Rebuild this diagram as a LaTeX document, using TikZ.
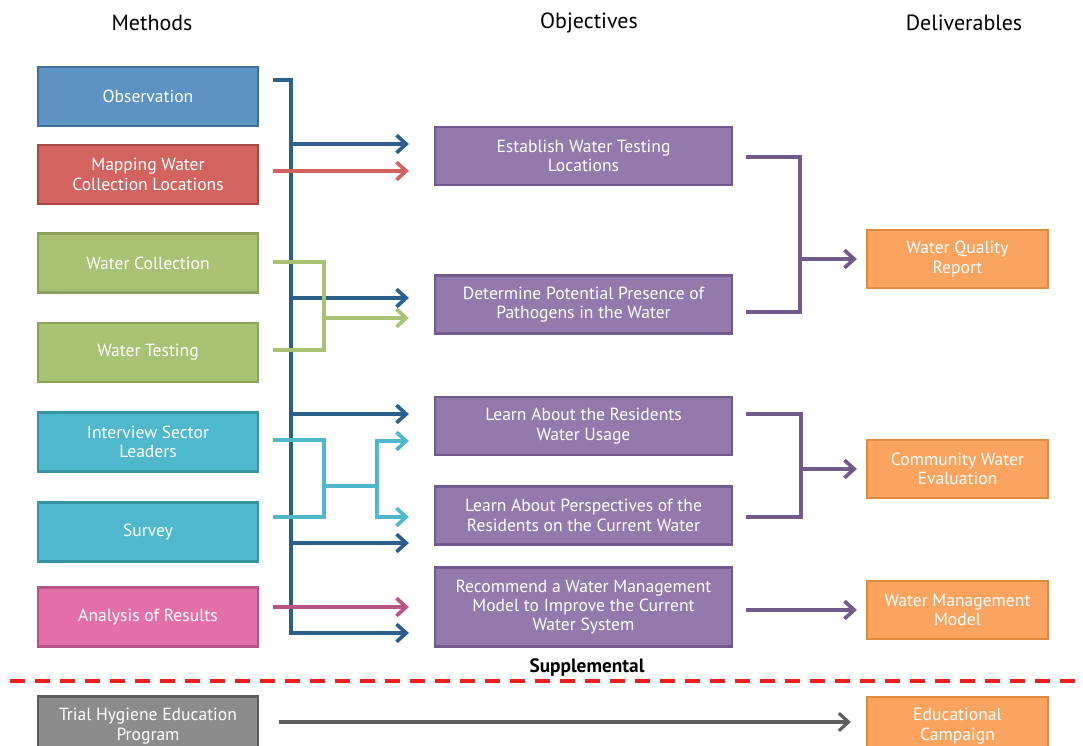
\documentclass[tikz,border=0pt]{standalone}
\usepackage{fontspec}
\setmainfont{PT Sans}
\usepackage{tikz}
\usetikzlibrary{arrows.meta,
calc
}
\tikzset{>={Straight Barb[length=5.5pt,width=10pt]}}

\definecolor{obsblue}{HTML}{5B93C4}
\definecolor{obsblueline}{HTML}{3E6F9E}
\definecolor{mapred}{HTML}{D2635F}
\definecolor{mapredline}{HTML}{A94845}
\definecolor{wgreen}{HTML}{A8C373}
\definecolor{wgreenline}{HTML}{8BA25A}
\definecolor{icyan}{HTML}{4FB8CC}
\definecolor{icyanline}{HTML}{3893A6}
\definecolor{apink}{HTML}{E470A8}
\definecolor{apinkline}{HTML}{B85385}
\definecolor{tgray}{HTML}{8C8C8C}
\definecolor{tgrayline}{HTML}{5E5E5E}
\definecolor{objpurple}{HTML}{9479AC}
\definecolor{objpurpleline}{HTML}{735A8C}
\definecolor{delorange}{HTML}{FBA45F}
\definecolor{delorangeline}{HTML}{E08A40}
\definecolor{trunkblue}{HTML}{2C5F8C}
\definecolor{dashred}{HTML}{E8201E}

\begin{document}
\begin{tikzpicture}[x=0.02cm,y=-0.02cm,
    box/.style={draw=#1line,fill=#1,line width=1.3pt,text=white,align=center,
        font=\fontsize{10}{11}\selectfont,inner sep=0pt},
    method/.style={box=#1,minimum width=4.4cm,minimum height=1.18cm},
    objective/.style={box=objpurple,minimum width=5.94cm,minimum height=1.16cm},
    deliverable/.style={box=delorange,minimum width=3.62cm,minimum height=1.16cm},
    heading/.style={font=\fontsize{12.5}{14}\selectfont},
    blueline/.style={draw=trunkblue,line width=2.1pt},
    redline/.style={draw=mapred,line width=2.1pt},
    greenline/.style={draw=wgreen,line width=2.1pt},
    cyanline/.style={draw=icyan,line width=2.1pt},
    pinkline/.style={draw=apinkline,line width=2.1pt},
    purpleline/.style={draw=objpurpleline,line width=2.1pt},
    grayline/.style={draw=tgrayline,line width=1.8pt}]
        \useasboundingbox (0,0) rectangle (1083,746);
        \clip (0,0) rectangle (1083,746);

        \node[heading] (hmethods) at (152,23) {Methods};
        \node[heading] (hobjectives) at (589,23) {Objectives};
        \node[heading] (hdeliverables) at (964,23) {Deliverables};

        \node[method=obsblue] (obs) at (148,96.5) {Observation};
        \node[method=mapred] (mapping) at (148,174.5) {Mapping Water\\Collection Locations};
        \node[method=wgreen] (collect) at (148,263) {Water Collection};
        \node[method=wgreen] (testing) at (148,352.5) {Water Testing};
        \node[method=icyan] (interview) at (148,442) {Interview Sector\\Leaders};
        \node[method=icyan] (survey) at (148,532) {Survey};
        \node[method=apink] (analysis) at (148,617) {Analysis of Results};
        \node[method=tgray] (trial) at (148,726) {Trial Hygiene Education\\Program};

        \node[objective] (establish) at (583.5,156) {Establish Water Testing\\Locations};
        \node[objective] (pathogens) at (583.5,304.5) {Determine Potential Presence of\\Pathogens in the Water};
        \node[objective] (usage) at (583.5,426) {Learn About the Residents\\Water Usage};
        \node[objective] (perspectives) at (583.5,515.5) {Learn About Perspectives of the\\Residents on the Current Water};
        \node[objective,minimum height=1.58cm] (recommend) at (583.5,607) {Recommend a Water Management\\Model to Improve the Current\\Water System};

        \node[deliverable] (quality) at (957.5,259) {Water Quality\\Report};
        \node[deliverable] (community) at (957.5,469) {Community Water\\Evaluation};
        \node[deliverable] (management) at (957.5,610) {Water Management\\Model};
        \node[deliverable] (campaign) at (957.5,726) {Educational\\Campaign};

        \draw[dashred,line width=1.8pt,dash pattern=on 0.3cm off 0.2cm] (10,681) -- (1083,681);
        \node[font=\bfseries\fontsize{11}{13}\selectfont] (supp) at (587,668) {Supplemental};

        \coordinate (top) at ($(obs.east)+(14,-16.5)$);
        \coordinate (bend) at ($(top)+(18,0)$);
        \coordinate (erecommend) at ($(recommend.west)+(-25,26)$);
        \draw[blueline,->] (top) -- (bend) |- (erecommend);
        \foreach \n/\dy in {establish/-12, pathogens/-6.5, usage/-12, perspectives/27.5}{
            \coordinate (e\n) at ($(\n.west)+(-25,\dy)$);
            \draw[blueline,->] (bend |- e\n) -- (e\n);
        }

        \draw[redline,->] ($(mapping.east)+(14,-3.5)$) -- ($(establish.west)+(-25,15)$);

        \coordinate (gr) at ($(collect.east)+(65,-1)$);
        \coordinate (gend) at ($(pathogens.west)+(-25,13.5)$);
        \draw[greenline] ($(collect.east)+(14,-1)$) -- (gr) |- ($(testing.east)+(14,-2.5)$);
        \draw[greenline,->] (gr |- gend) -- (gend);

        \coordinate (cr) at ($(interview.east)+(65,-2)$);
        \coordinate (cmid) at ($(cr)+(0,46)$);
        \coordinate (csplit) at ($(cmid)+(53,0)$);
        \draw[cyanline] ($(interview.east)+(14,-2)$) -- (cr) |- ($(survey.east)+(14,-15)$);
        \draw[cyanline] (cmid) -- (csplit);
        \draw[cyanline,->] (csplit) |- ($(usage.west)+(-25,15)$);
        \draw[cyanline,->] (csplit) |- ($(perspectives.west)+(-25,1.5)$);

        \draw[pinkline,->] ($(analysis.east)+(14,-10)$) -- ($(recommend.west)+(-25,0)$);

        \coordinate (pq) at ($(establish.east)+(67,1)$);
        \draw[purpleline] ($(establish.east)+(13,1)$) -- (pq) |- ($(pathogens.east)+(13,7.5)$);
        \draw[purpleline,->] (pq |- quality) -- ($(quality.west)+(-9,0)$);

        \coordinate (pc) at ($(usage.east)+(68,-12)$);
        \draw[purpleline] ($(usage.east)+(13,-12)$) -- (pc) |- ($(perspectives.east)+(13,1.5)$);
        \draw[purpleline,->] (pc |- community) -- ($(community.west)+(-9,0)$);

        \draw[purpleline,->] ($(recommend.east)+(13,3)$) -- ($(management.west)+(-9,0)$);

        \draw[grayline,->] ($(trial.east)+(20,-4)$) -- ($(campaign.west)+(-15,-4)$);
\end{tikzpicture}
\end{document}
